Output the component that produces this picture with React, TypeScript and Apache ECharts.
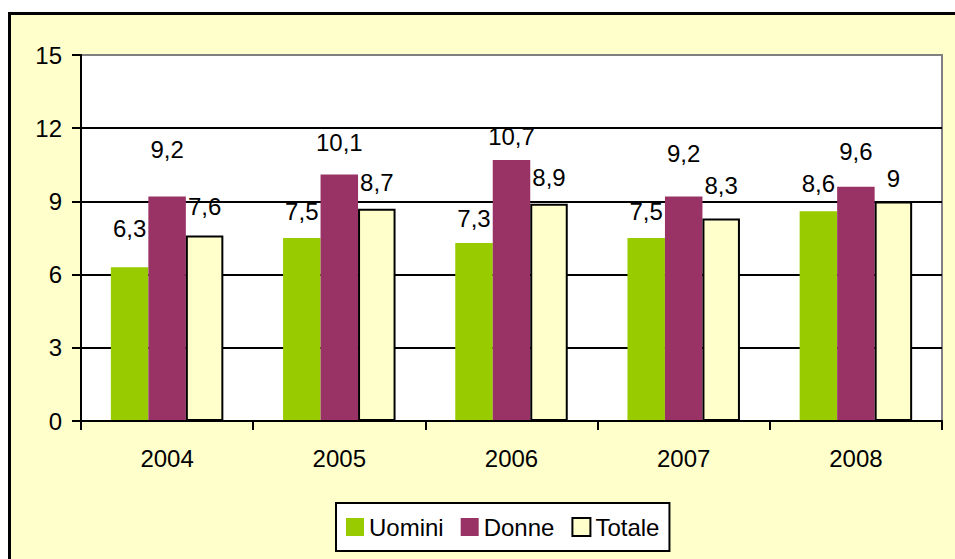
import React, { useEffect, useRef } from "react";
import * as echarts from "echarts";

const years = ["2004", "2005", "2006", "2007", "2008"];
const uomini = [6.3, 7.5, 7.3, 7.5, 8.6];
const donne = [9.2, 10.1, 10.7, 9.2, 9.6];
const totale = [7.6, 8.7, 8.9, 8.3, 9];
const yTicks = { min: 0, max: 15, interval: 3 };

// label lift (px above bar top to label centre), styling only
const liftU = [39, 27, 24, 27, 28];
const liftD = [47, 32, 23, 43, 35];
const liftT = [29, 26, 26, 33, 23];

const FONT = "'Liberation Sans', Arial, sans-serif";

const fmt = (v: number) => String(v).replace(".", ",");

function withLabels(values: number[], lifts: number[]) {
  return values.map((v, i) => ({
    value: v,
    label: { offset: [0, -(lifts[i] - 12)] },
  }));
}

export default function App() {
  const ref = useRef<HTMLDivElement>(null);

  useEffect(() => {
    if (!ref.current) return;
    const chart = echarts.init(ref.current, undefined, { renderer: "svg" });
    const labelBase = {
      show: true,
      position: "top",
      distance: 0,
      fontSize: 24,
      lineHeight: 24,
      fontFamily: FONT,
      color: "#000",
      formatter: (p: any) => fmt(p.value),
    };
    chart.setOption({
      animation: false,
      backgroundColor: "#ffffff",
      textStyle: { fontFamily: FONT },
      graphic: [
        {
          type: "rect",
          z: -100,
          silent: true,
          shape: { x: 9.5, y: 13.5, width: 1000, height: 1000 },
          style: { fill: "#FFFFCC", stroke: "#000", lineWidth: 3 },
        },
      ],
      grid: {
        left: 81,
        right: 13,
        top: 55,
        bottom: 138,
        show: true,
        backgroundColor: "#ffffff",
        borderColor: "#808080",
        borderWidth: 2,
        containLabel: false,
      },
      legend: {
        left: 336,
        top: 503,
        padding: [12, 10, 12, 10],
        backgroundColor: "#ffffff",
        borderColor: "#000",
        borderWidth: 2,
        borderRadius: 0,
        itemWidth: 18,
        itemHeight: 18,
        itemGap: 17,
        icon: "rect",
        textStyle: { fontSize: 24, fontFamily: FONT, color: "#000" },
        data: ["Uomini", "Donne", "Totale"],
      },
      xAxis: {
        type: "category",
        data: years,
        z: 3,
        axisLine: { lineStyle: { color: "#000", width: 2 } },
        axisTick: { show: true, length: 9, lineStyle: { color: "#000", width: 2 } },
        axisLabel: { fontSize: 24, fontFamily: FONT, color: "#000", margin: 25 },
        splitLine: { show: false },
      },
      yAxis: {
        type: "value",
        min: yTicks.min,
        max: yTicks.max,
        interval: yTicks.interval,
        axisLine: { show: true, lineStyle: { color: "#000", width: 2 } },
        axisTick: { show: true, length: 9, lineStyle: { color: "#000", width: 2 } },
        axisLabel: { fontSize: 24, fontFamily: FONT, color: "#000", margin: 19 },
        splitLine: {
          show: true,
          lineStyle: {
            color: ["#000", "#000", "#000", "#000", "#000", "#808080"],
            width: 2,
          },
        },
      },
      series: [
        {
          name: "Uomini",
          type: "bar",
          barWidth: 37.5,
          barGap: "0%",
          itemStyle: { color: "#99CC00" },
          label: labelBase,
          data: withLabels(uomini, liftU),
        },
        {
          name: "Donne",
          type: "bar",
          barWidth: 37.5,
          barGap: "0%",
          itemStyle: { color: "#993366" },
          label: labelBase,
          data: withLabels(donne, liftD),
        },
        {
          name: "Totale",
          type: "bar",
          barWidth: 37.5,
          barGap: "0%",
          itemStyle: { color: "#FFFFCC", borderColor: "#000", borderWidth: 2 },
          label: labelBase,
          data: withLabels(totale, liftT),
        },
      ],
    });
    return () => chart.dispose();
  }, []);

  return (
    <div
      ref={ref}
      style={{ position: "fixed", left: 0, top: 0, width: 955, height: 559 }}
    />
  );
}
